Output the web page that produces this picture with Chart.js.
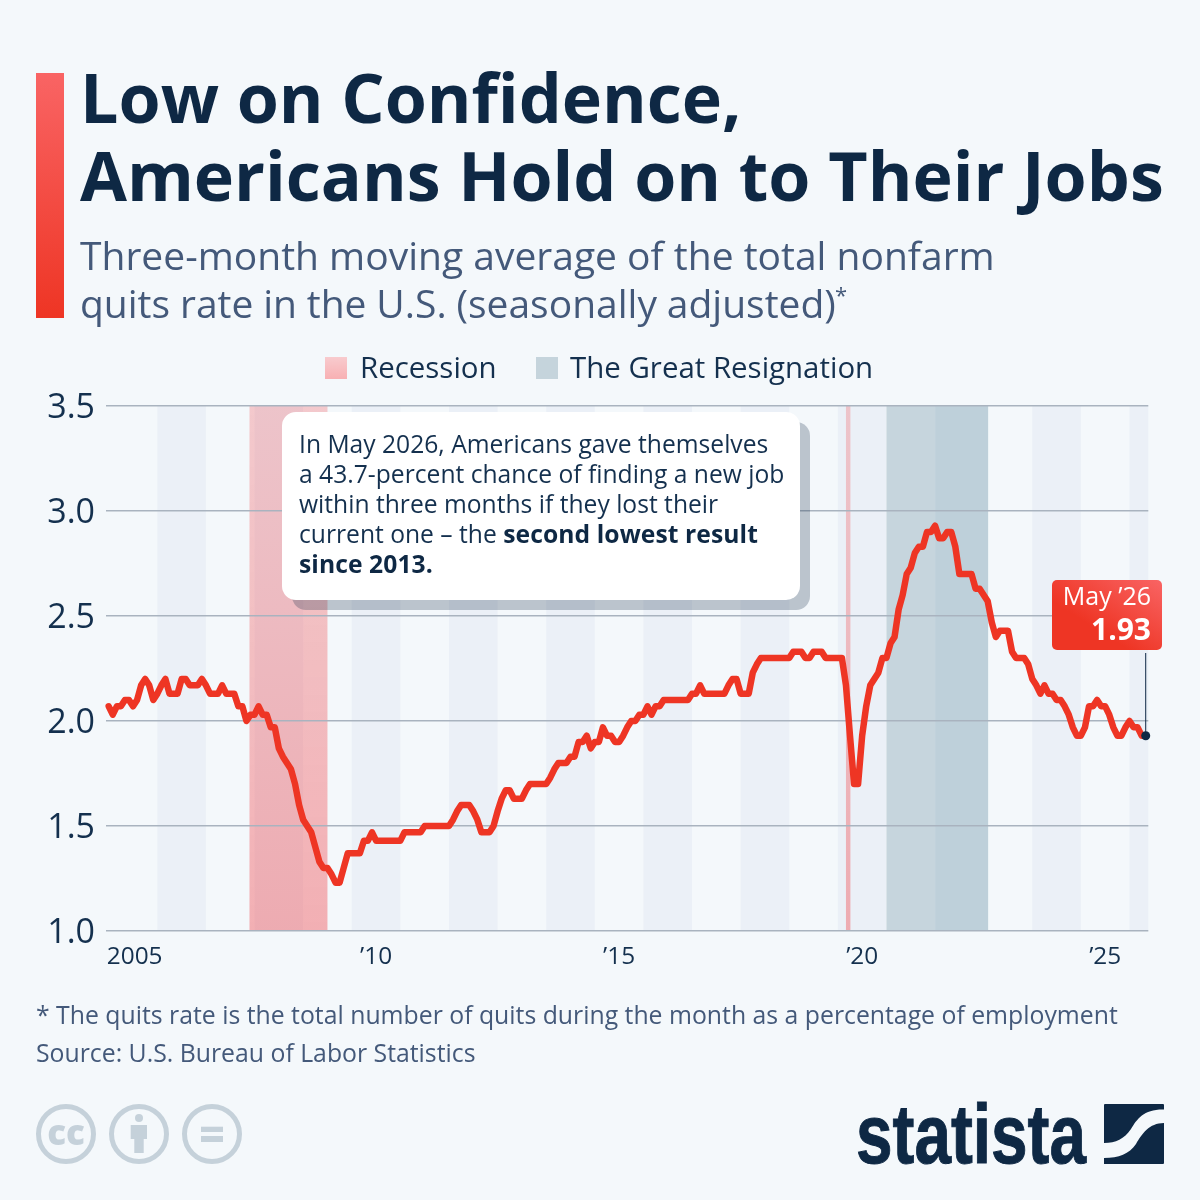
<!DOCTYPE html>
<html lang="en">
<head>
<meta charset="utf-8">
<title>Low on Confidence, Americans Hold on to Their Jobs</title>
<script src="https://cdn.jsdelivr.net/npm/chart.js@4/dist/chart.umd.js"></script>
<style>
  html, body { margin: 0; padding: 0; background: #f4f8fb; }
  #page { position: relative; width: 1200px; height: 1200px; overflow: hidden; background: #f4f8fb;
          font-family: "Open Sans", sans-serif; color: #0e2844; }
  #page > * { position: absolute; }
  canvas { left: 0; top: 0; }
  .accent { left: 36px; top: 73px; width: 28px; height: 245px; background: linear-gradient(to bottom, #f96464, #ee3524); }
  .title { left: 80px; font-size: 68.13px; font-weight: 700; line-height: 78px; white-space: nowrap; }
  .subtitle { left: 80px; font-size: 39px; line-height: 48px; color: #44597a; white-space: nowrap; }
  .subtitle sup { font-size: 22px; line-height: 0; vertical-align: baseline; position: relative; top: -15px; left: -1px; }
  .swatch { width: 22px; height: 22px; top: 357px; }
  .legend { top: 349px; font-size: 29.45px; line-height: 36px; white-space: nowrap; color: #14304e; }
  .callout { left: 282px; top: 412px; width: 518px; height: 188px; border-radius: 14px; background: #fff;
             box-shadow: 10px 10px 0 rgba(14, 40, 68, 0.25); }
  .callout p { margin: 0; position: absolute; left: 17px; top: 17px; font-size: 24.65px; line-height: 30px; white-space: nowrap; color: #14304e; }
  .callout b { color: #0e2844; letter-spacing: 0.08px; }
  .tag { left: 1052px; top: 580px; width: 110px; height: 70px; border-radius: 5px; color: #fff; text-align: right;
         background: linear-gradient(to top right, #ee3524 35%, #f96464); }
  .tag span { position: absolute; right: 11px; white-space: nowrap; }
  .note { left: 36px; font-size: 24.8px; line-height: 38px; color: #44597a; white-space: nowrap; }
  .wordmark { left: 855.5px; top: 1089px; font-family: "Liberation Sans", sans-serif; font-weight: 700;
              font-size: 84px; line-height: 90px; color: #0e2844; white-space: nowrap; transform-origin: left top;
              transform: scaleX(0.782); -webkit-text-stroke: 1px #0e2844; }
</style>
</head>
<body>
<div id="page">
  <canvas id="chart" width="1200" height="1200"></canvas>

  <div class="accent"></div>
  <div class="title" style="top:58px">Low on Confidence,</div>
  <div class="title" style="top:136px">Americans Hold on to Their Jobs</div>
  <div class="subtitle" style="top:231px">Three-month moving average of the total nonfarm</div>
  <div class="subtitle" style="top:279px;word-spacing:-0.3px">quits rate in the U.S. (seasonally adjusted)<sup>*</sup></div>

  <div class="swatch" style="left:325px;background:linear-gradient(to bottom,#f8cbce,#f8b0b3)"></div>
  <div class="legend" style="left:360px">Recession</div>
  <div class="swatch" style="left:536px;background:#c5d4dc"></div>
  <div class="legend" style="left:570px">The Great Resignation</div>

  <div class="callout"><p>In May 2026, Americans gave themselves<br>a 43.7-percent chance of finding a new job<br>within three months if they lost their<br>current one – the <b>second lowest result<br>since 2013.</b></p></div>

  <div class="tag">
    <span style="top:0;font-size:25px;line-height:30px">May ’26</span>
    <span style="top:31px;font-size:30px;line-height:36px;font-weight:700">1.93</span>
  </div>

  <div class="note" style="top:995px">* The quits rate is the total number of quits during the month as a percentage of employment</div>
  <div class="note" style="top:1033px">Source: U.S. Bureau of Labor Statistics</div>

  <svg style="left:30px;top:1098px" width="220" height="72" viewBox="0 0 220 72">
    <g fill="none" stroke="#c5d1da" stroke-width="5">
      <circle cx="36" cy="36" r="27.500"/><circle cx="109" cy="36" r="27.500"/><circle cx="182" cy="36" r="27.500"/>
    </g>
    <g fill="#c5d1da">
      <text x="36" y="47" text-anchor="middle" font-family="Open Sans" font-weight="800" font-size="35">cc</text>
      <circle cx="109" cy="20" r="4"/>
      <path d="M100.700 27 H117 V41 H113.700 V55 H104.300 V41 H100.700 Z"/>
      <rect x="171" y="28.700" width="22" height="5.300"/><rect x="171" y="38" width="22" height="6"/>
    </g>
  </svg>

  <div class="wordmark">statista</div>
  <svg style="left:1104px;top:1104px" width="60" height="60" viewBox="0 0 60 60">
    <path fill="#0e2844" d="M1,0 H59 Q60,0 60,1 V5.500 C40,5 33,15 27,25 C20,35 12,39 0,39 V1 Q0,0 1,0 Z"/>
    <path fill="#0e2844" d="M60,19 V59 Q60,60 59,60 H0 V54 C15,54 25,50 32,40 C38,30 45,19 60,19 Z"/>
  </svg>
</div>

<script>
// Total nonfarm quits rate, three-month moving average, monthly from January 2005 to May 2026.
const quitsRate = [
  2.07, 2.03, 2.07, 2.07, 2.10, 2.10, 2.07, 2.10, 2.17, 2.20, 2.17, 2.10,
  2.13, 2.17, 2.20, 2.13, 2.13, 2.13, 2.20, 2.20, 2.17, 2.17, 2.17, 2.20,
  2.17, 2.13, 2.13, 2.13, 2.17, 2.13, 2.13, 2.13, 2.07, 2.07, 2.00, 2.03,
  2.03, 2.07, 2.03, 2.03, 1.97, 1.97, 1.87, 1.83, 1.80, 1.77, 1.70, 1.60,
  1.53, 1.50, 1.47, 1.40, 1.33, 1.30, 1.30, 1.27, 1.23, 1.23, 1.30, 1.37,
  1.37, 1.37, 1.37, 1.43, 1.43, 1.47, 1.43, 1.43, 1.43, 1.43, 1.43, 1.43,
  1.43, 1.47, 1.47, 1.47, 1.47, 1.47, 1.50, 1.50, 1.50, 1.50, 1.50, 1.50,
  1.50, 1.53, 1.57, 1.60, 1.60, 1.60, 1.57, 1.53, 1.47, 1.47, 1.47, 1.50,
  1.57, 1.63, 1.67, 1.67, 1.63, 1.63, 1.63, 1.67, 1.70, 1.70, 1.70, 1.70,
  1.70, 1.73, 1.77, 1.80, 1.80, 1.80, 1.83, 1.83, 1.90, 1.90, 1.93, 1.87,
  1.90, 1.90, 1.97, 1.93, 1.93, 1.90, 1.90, 1.93, 1.97, 2.00, 2.00, 2.03,
  2.03, 2.07, 2.03, 2.07, 2.07, 2.10, 2.10, 2.10, 2.10, 2.10, 2.10, 2.10,
  2.13, 2.13, 2.17, 2.13, 2.13, 2.13, 2.13, 2.13, 2.13, 2.17, 2.20, 2.20,
  2.13, 2.13, 2.13, 2.23, 2.27, 2.30, 2.30, 2.30, 2.30, 2.30, 2.30, 2.30,
  2.30, 2.33, 2.33, 2.33, 2.30, 2.30, 2.33, 2.33, 2.33, 2.30, 2.30, 2.30,
  2.30, 2.30, 2.17, 1.93, 1.70, 1.70, 1.93, 2.07, 2.17, 2.20, 2.23, 2.30,
  2.30, 2.37, 2.40, 2.53, 2.60, 2.70, 2.73, 2.80, 2.83, 2.83, 2.90, 2.90,
  2.93, 2.87, 2.87, 2.90, 2.90, 2.83, 2.70, 2.70, 2.70, 2.70, 2.63, 2.63,
  2.60, 2.57, 2.47, 2.40, 2.43, 2.43, 2.43, 2.33, 2.30, 2.30, 2.30, 2.27,
  2.20, 2.17, 2.13, 2.17, 2.13, 2.13, 2.10, 2.10, 2.07, 2.03, 1.97, 1.93,
  1.93, 1.97, 2.07, 2.07, 2.10, 2.07, 2.07, 2.03, 1.97, 1.93, 1.93, 1.97,
  2.00, 1.97, 1.97, 1.93, 1.93
];

// Every second calendar year is shaded, expressed as months since January 2005.
const yearBandStarts = [12, 36, 60, 84, 108, 132, 156, 180, 204, 228, 252];
const yearBandEnds   = [24, 48, 72, 96, 120, 144, 168, 192, 216, 240, 256.64];

const recessionStarts = [34.75, 182];
const recessionEnds   = [54, 183.1];

const resignationStart = 192;
const resignationSplit = 204;
const resignationEnd   = 217.1;

const xTickMonths = [6.4, 66, 126, 186, 246];
const xTickLabels = ['2005', '’10', '’15', '’20', '’25'];
const yTicks = [1.0, 1.5, 2.0, 2.5, 3.0, 3.5];

const points = quitsRate.map((rate, month) => ({ x: month, y: rate }));
const lastIndex = points.length - 1;

// Background shading sits below the grid; the leader to the value tag sits above the line.
const shading = {
  id: 'shading',
  beforeDraw(chart) {
    const { ctx, chartArea: a, scales: { x } } = chart;
    const fillSpan = (from, to, style) => {
      ctx.fillStyle = style;
      ctx.fillRect(x.getPixelForValue(from), a.top, x.getPixelForValue(to) - x.getPixelForValue(from), a.bottom - a.top);
    };
    ctx.save();
    yearBandStarts.forEach((s, i) => fillSpan(s, yearBandEnds[i], '#ebf0f7'));
    fillSpan(resignationStart, resignationSplit, '#c6d5dd');
    fillSpan(resignationSplit, resignationEnd, '#bed0da');
    const pink = ctx.createLinearGradient(0, a.top, 0, a.bottom);
    pink.addColorStop(0, 'rgba(240, 110, 115, 0.34)');
    pink.addColorStop(1, 'rgba(240, 90, 95, 0.46)');
    recessionStarts.forEach((s, i) => fillSpan(s, recessionEnds[i], pink));
    ctx.restore();
  },
  afterDatasetsDraw(chart) {
    const { ctx, scales: { x, y } } = chart;
    const px = x.getPixelForValue(lastIndex);
    ctx.save();
    ctx.strokeStyle = '#0e2844';
    ctx.lineWidth = 1;
    ctx.beginPath();
    ctx.moveTo(px, 653);
    ctx.lineTo(px, y.getPixelForValue(quitsRate[lastIndex]));
    ctx.stroke();
    ctx.restore();
  }
};

new Chart(document.getElementById('chart'), {
  type: 'line',
  data: {
    datasets: [{
      label: 'Quits rate',
      data: points,
      borderColor: '#ee3524',
      borderWidth: 6.5,
      borderJoinStyle: 'round',
      borderCapStyle: 'round',
      tension: 0,
      pointRadius: ctx => (ctx.dataIndex === lastIndex ? 4.5 : 0),
      pointBackgroundColor: '#0e2844',
      pointBorderWidth: 0,
      clip: false
    }]
  },
  plugins: [shading],
  options: {
    responsive: false,
    animation: false,
    layout: { padding: { left: 0, top: 406, right: 51.7, bottom: 219 } },
    plugins: { legend: { display: false }, tooltip: { enabled: false } },
    scales: {
      x: {
        type: 'linear',
        min: -0.67,
        max: 256.64,
        afterFit(scale) { scale.height = 50; },
        afterBuildTicks(scale) { scale.ticks = xTickMonths.map(value => ({ value })); },
        grid: { display: false },
        border: { display: false },
        ticks: {
          autoSkip: false,
          maxRotation: 0,
          padding: 3,
          color: '#14304e',
          font: { family: 'Open Sans', size: 24.4 },
          callback: (value) => xTickLabels[xTickMonths.indexOf(value)]
        }
      },
      y: {
        type: 'linear',
        min: 1,
        max: 3.5,
        afterFit(scale) { scale.width = 106; },
        afterBuildTicks(scale) { scale.ticks = yTicks.map(value => ({ value })); },
        grid: { color: '#a9b3bf', lineWidth: 1.5, drawTicks: false },
        border: { display: false },
        ticks: {
          padding: 11,
          color: '#14304e',
          // The blank first line nudges the label slightly below the grid line.
          font: { family: 'Open Sans', size: 34, lineHeight: '4px' },
          callback: value => ['', value.toFixed(1)]
        }
      }
    }
  }
});
</script>
</body>
</html>
